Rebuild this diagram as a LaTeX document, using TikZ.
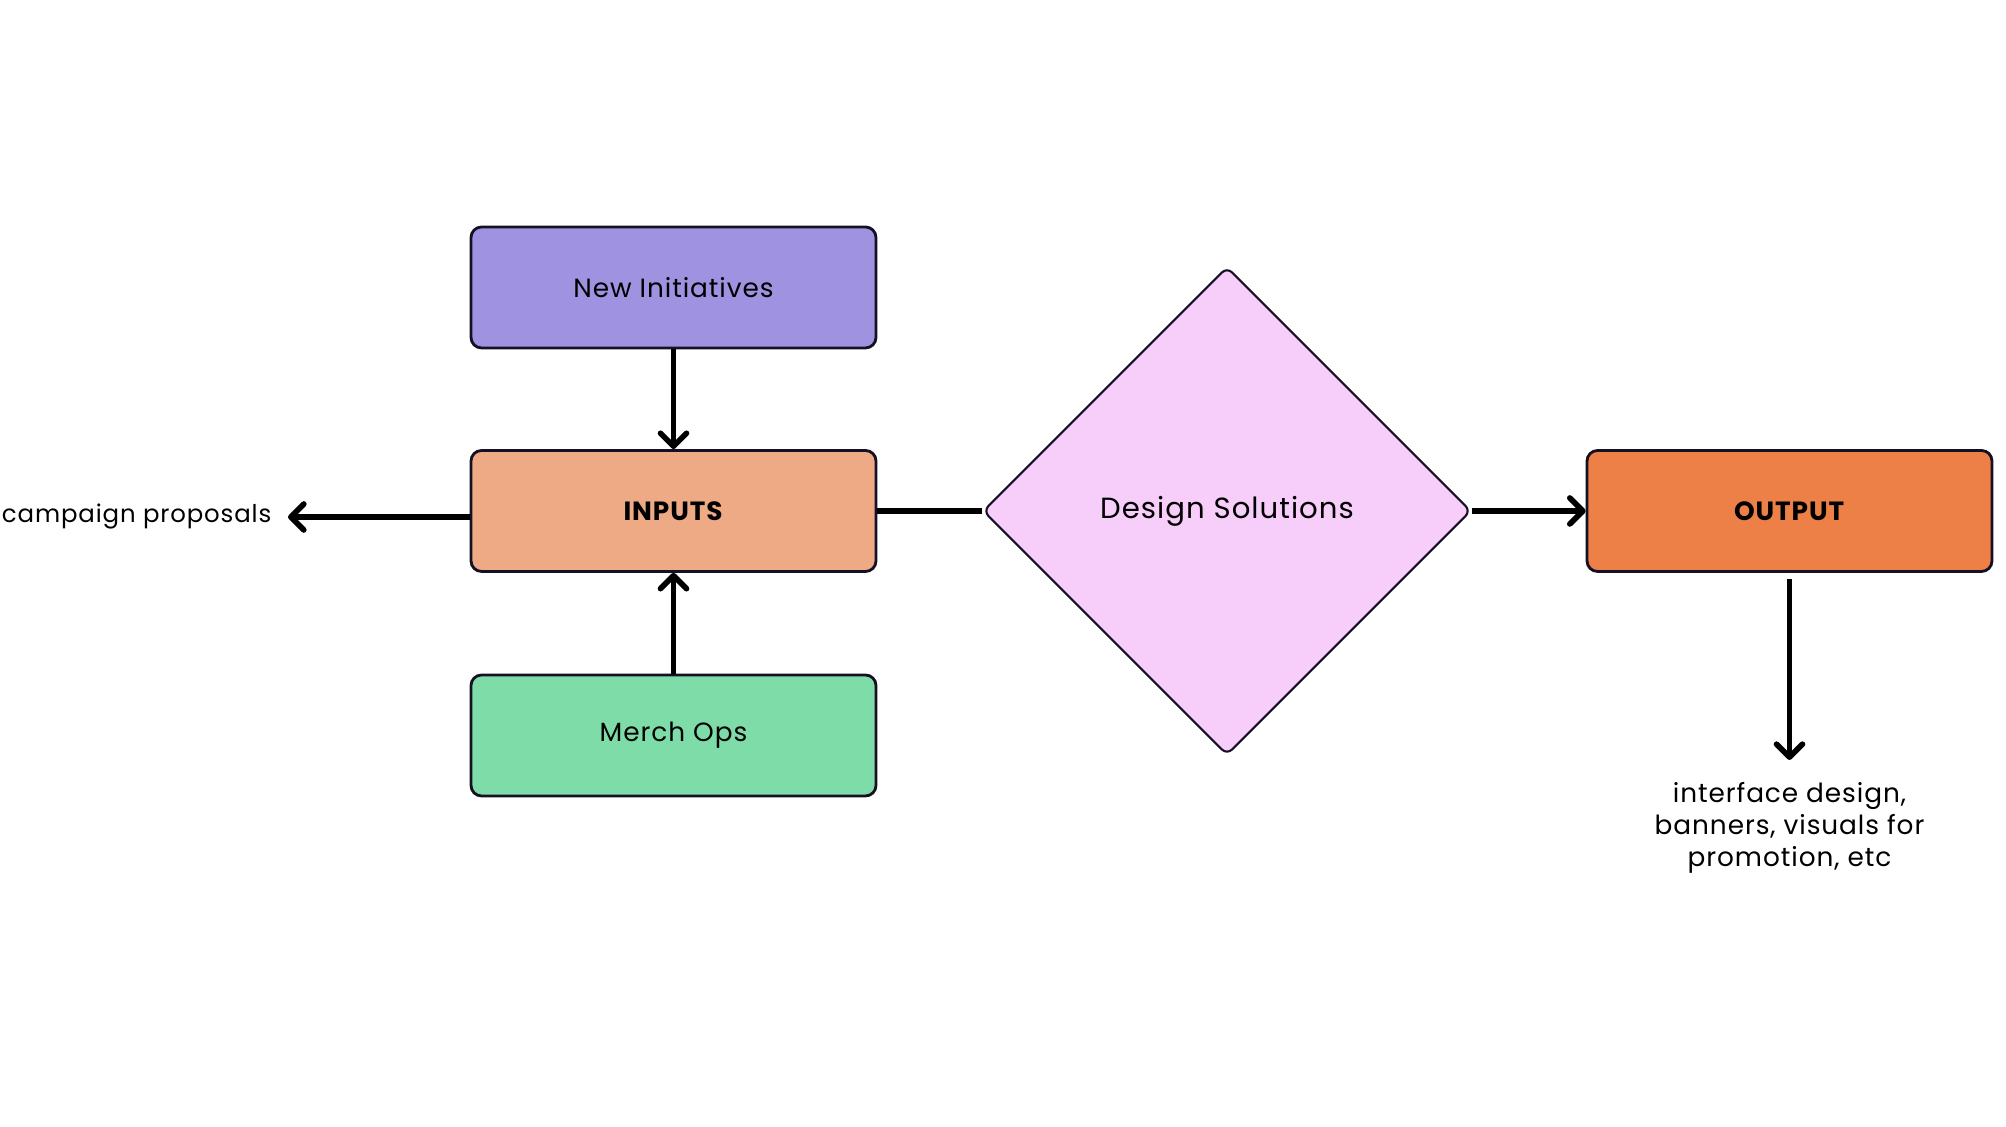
\documentclass[tikz,border=0pt]{standalone}
\usepackage{fontspec}
\setmainfont{Poppins}[LetterSpace=3.5]
\usepackage{tikz}
\usetikzlibrary{arrows.meta, positioning, shapes.geometric}
\definecolor{initfill}{RGB}{159,146,224}
\definecolor{inputfill}{RGB}{238,170,133}
\definecolor{merchfill}{RGB}{125,220,167}
\definecolor{designfill}{RGB}{247,206,250}
\definecolor{outputfill}{RGB}{237,128,71}
\definecolor{edgeink}{RGB}{22,16,36}

\begin{document}
\begin{tikzpicture}[
    font=\fontsize{7.5}{9}\selectfont,
    box/.style={
        draw=edgeink,
        rounded corners=3pt,
        line width=0.8pt,
        minimum width=4.05cm,
        minimum height=1.21cm,
        inner sep=0pt
    },
    decision/.style={
        diamond,
        draw=edgeink,
        fill=designfill,
        rounded corners=2pt,
        line width=0.6pt,
        minimum width=4.88cm,
        minimum height=4.88cm,
        inner sep=0pt,
        font=\fontsize{8.3}{10}\selectfont
    },
    flow/.style={
        line width=1.6pt,
        -{Straight Barb[length=1.3mm,width=2.6mm,round]}
    },
    link/.style={
        line width=1.6pt
    }
]

\useasboundingbox (0,0) rectangle (20.06,11.27);

% ------------------------------------------------------------
% Left column: sources feeding the inputs
% ------------------------------------------------------------
\node[box, fill=initfill] (init) at (6.735,8.395) {New Initiatives};
\node[box, fill=inputfill] (inputs) at (6.735,6.16) {\textbf{INPUTS}};
\node[box, fill=merchfill] (merch) at (6.735,3.915) {Merch Ops};

\draw[flow] (init) -- (inputs);
\draw[flow] (merch) -- (inputs);

% side output of the inputs
\node[anchor=east, inner sep=0.16cm, font=\fontsize{6.95}{9}\selectfont] (campaign) at (2.88,6.10) {campaign proposals};
\draw[flow] ([yshift=-0.06cm]inputs.west) -- (campaign.east);

% ------------------------------------------------------------
% Middle: design solutions
% ------------------------------------------------------------
\node[decision] (design) at (12.27,6.16) {\raisebox{-1pt}{Design Solutions}};
\draw[link] (inputs.east) -- (design.west);

% ------------------------------------------------------------
% Right: output and what it delivers
% ------------------------------------------------------------
\node[box, fill=outputfill] (output) at (17.895,6.16) {\textbf{OUTPUT}};
\draw[flow] (design.east) -- (output.west);

\node[anchor=north, align=center, inner sep=0.22cm] (deliver) at (17.895,3.67)
    {interface design,\\ banners, visuals for\\ promotion, etc};
\draw[flow, shorten <=0.06cm] (output.south) -- (deliver.north);

\end{tikzpicture}
\end{document}
